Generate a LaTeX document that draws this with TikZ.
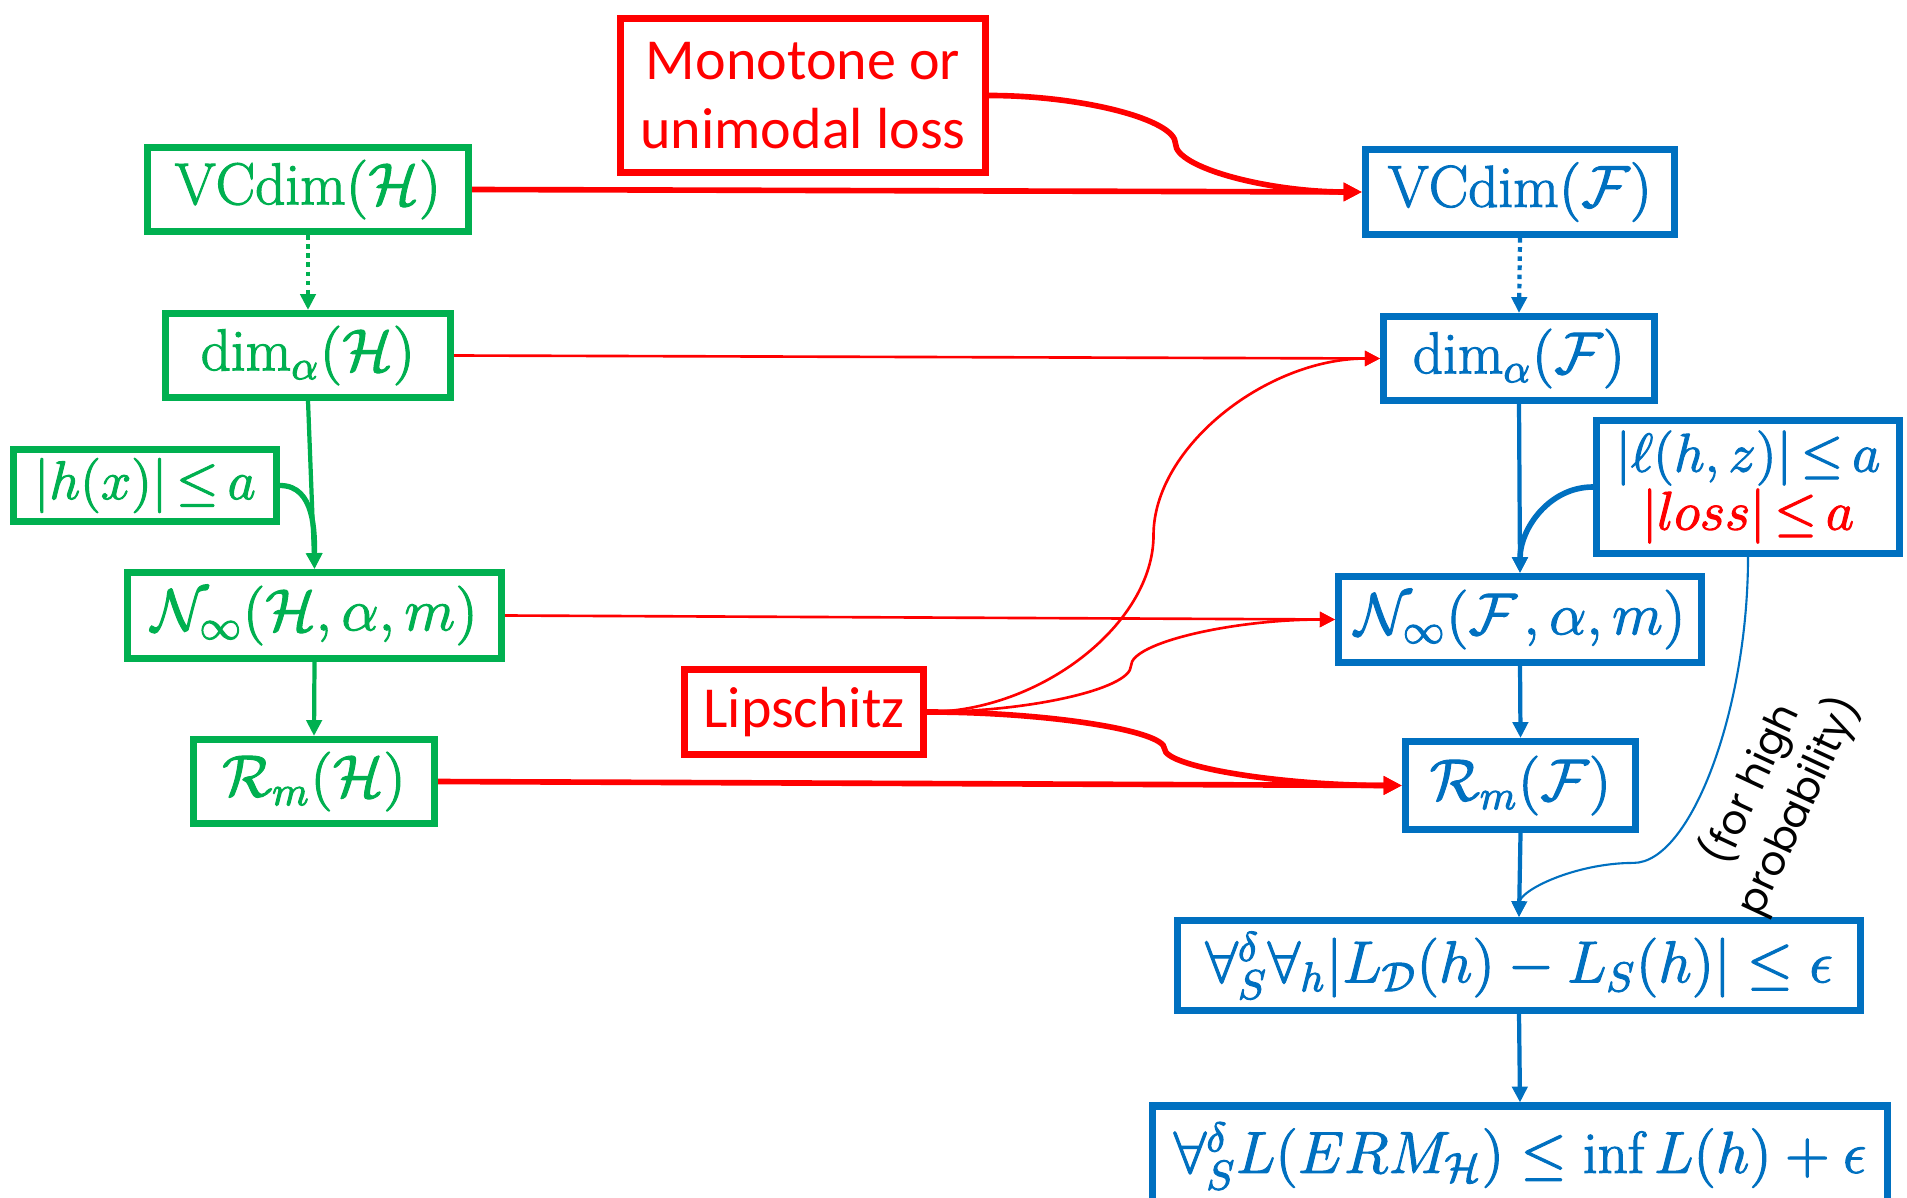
\RequirePackage{fix-cm}
\documentclass[tikz,border=0pt]{standalone}
\usepackage{amsmath}
\usepackage{fontspec}
\newfontfamily\calibri{Carlito}
\newfontfamily\geofont{Poppins}
\usetikzlibrary{arrows.meta,calc}
\definecolor{pgreen}{HTML}{00B050}
\definecolor{pblue}{HTML}{0070C0}
\definecolor{pred}{HTML}{FF0000}

% slightly heavier glyphs for the formulas (fill + stroke text rendering)
\newcommand\heavytext[1]{\special{pdf:literal direct 2 Tr 0.3 w}#1\special{pdf:literal direct 0 Tr}}

% S-shaped connector: horizontal at both ends, vertical tangent half way
\newcommand\bendlink[3]{%
  \coordinate (bl-m) at ($(#2)!0.5!(#3)$);
  \coordinate (bl-a) at ($(#2)!0.25!(#3)$);
  \coordinate (bl-b) at ($(#2)!0.75!(#3)$);
  \draw[#1] (#2) .. controls (bl-a |- #2) and (bl-m |- bl-a) .. (bl-m)
                 .. controls (bl-m |- bl-b) and (bl-b |- #3) .. (#3);
}

\begin{document}
\begin{tikzpicture}[x=0.01cm,y=-0.01cm,
  box/.style={draw, line width=2pt, inner sep=0pt, align=center,
              font=\fontsize{16.8}{19}\selectfont},
  smallmath/.style={font=\fontsize{15.5}{16.5}\selectfont},
  gbox/.style={box, draw=pgreen, text=pgreen},
  bbox/.style={box, draw=pblue, text=pblue},
  rbox/.style={box, draw=pred, text=pred, font=\calibri\fontsize{16.5}{19.5}\selectfont},
  thickred/.style={draw=pred, line width=1.6pt, -{Triangle[length=5.2pt,width=5pt]}},
  thinred/.style={draw=pred, line width=0.75pt, -{Triangle[length=4.3pt,width=4.3pt]}},
  garrow/.style={draw=pgreen, line width=1.2pt, -{Triangle[length=4.5pt,width=4.3pt]}},
  barrow/.style={draw=pblue, line width=1.2pt, -{Triangle[length=4.5pt,width=4.3pt]}},
  thinblue/.style={draw=pblue, line width=0.6pt, -{Triangle[length=4pt,width=3.8pt]}},
  dotline/.style={dash pattern=on 1.3pt off 1.3pt},
]
\useasboundingbox (0,0) rectangle (1907,1197);

% left column
\node[gbox, minimum width=3.21cm, minimum height=0.84cm] (vch) at (308,189.5) {\heavytext{$\mathrm{VCdim}(\mathcal{H})$}};
\node[gbox, minimum width=2.85cm, minimum height=0.84cm] (dah) at (308,355.5) {\heavytext{$\dim_{\alpha}(\mathcal{H})$}};
\node[gbox, smallmath, minimum width=2.63cm, minimum height=0.72cm] (hx) at (145,485.5)
  {\heavytext{$\thickmuskip=3mu |h(x)| \leq a$}};
\node[gbox, minimum width=3.74cm, minimum height=0.86cm] (nh) at (314.5,615.5) {\heavytext{$\mathcal{N}_{\infty}(\mathcal{H},\alpha,m)$}};
\node[gbox, minimum width=2.41cm, minimum height=0.84cm] (rh) at (314,781.5) {\heavytext{$\mathcal{R}_m(\mathcal{H})$}};

% conditions
\node[rbox, minimum width=3.65cm, minimum height=1.54cm] (mono) at (803,95.5) {Monotone or\\unimodal loss};
\node[rbox, minimum width=2.39cm, minimum height=0.85cm] (lip) at (804,712) {Lipschitz};

% right column
\node[bbox, minimum width=3.09cm, minimum height=0.85cm] (vcf) at (1520,192) {\heavytext{$\mathrm{VCdim}(\mathcal{F})$}};
\node[bbox, minimum width=2.71cm, minimum height=0.84cm] (daf) at (1519,358.5) {\heavytext{$\dim_{\alpha}(\mathcal{F})$}};
\node[bbox, smallmath, minimum width=3.03cm, minimum height=1.32cm] (lz) at (1748,487)
  {\heavytext{$\thickmuskip=3mu |\ell(h,z)| \leq a$}\\\textcolor{pred}{\heavytext{$\thickmuskip=3mu |loss| \leq a$}}};
\node[bbox, minimum width=3.63cm, minimum height=0.86cm] (nf) at (1520,619.5) {\heavytext{$\mathcal{N}_{\infty}(\mathcal{F}\mkern2mu,\alpha,m)$}};
\node[bbox, minimum width=2.30cm, minimum height=0.88cm] (rf) at (1520.5,785.5) {\heavytext{$\mathcal{R}_m(\mathcal{F})$}};
\node[bbox, minimum width=6.83cm, minimum height=0.90cm] (unif) at (1519,965.5)
  {\heavytext{$\forall_S^{\delta}\forall_h |L_{\mathcal{D}}(h) - L_S(h)| \leq \epsilon$}};
\node[bbox, minimum width=7.35cm, minimum height=1.00cm] (erm) at (1520,1156)
  {\heavytext{$\forall_S^{\delta} L(ERM_{\mathcal{H}}) \leq \inf L(h) + \epsilon$}};

\node[rotate=65, align=center, font=\geofont\fontsize{11.5}{13.5}\selectfont] (note) at (1774,795) {(for high\\probability)};

% green implications
\draw[garrow, dotline] (vch.south) -- (dah.north);
\draw[garrow] (dah.south) -- (nh.north);
\draw[garrow, line width=1.5pt] (hx.east) to[out=0,in=90] (nh.north);
\draw[garrow] (nh.south) -- (rh.north);

% blue implications
\draw[barrow, dotline] (vcf.south) -- (daf.north);
\draw[barrow] (daf.south) -- (nf.north);
\draw[barrow, line width=1.6pt] (lz.west) to[out=180,in=90] (nf.north);
\draw[barrow] (nf.south) -- (rf.north);
\draw[barrow] (rf.south) -- (unif.north);
\draw[barrow] (unif.south) -- (erm.north);

% bounded loss, high probability
\coordinate (hp-m) at ($(lz.south)!0.5!(unif.north)$);
\coordinate (hp-a) at ($(lz.south)!0.25!(unif.north)$);
\coordinate (hp-b) at ($(lz.south)!0.75!(unif.north)$);
\coordinate (hp-y1) at ($(lz.south)!0.425!(unif.north)$);
\coordinate (hp-y2) at ($(lz.south)!0.85!(unif.north)$);
\coordinate (hp-y3) at ($(lz.south)!0.925!(unif.north)$);
\draw[thinblue] (lz.south) .. controls (lz.south |- hp-y1) and (hp-a |- hp-y2) .. (hp-m |- hp-y2)
  .. controls (hp-b |- hp-y2) and (unif.north |- hp-y3) .. (unif.north);

% transfers from H to F
\draw[thickred] (vch.east) -- (vcf.west);
\draw[thinred] (dah.east) -- (daf.west);
\draw[thinred] (nh.east) -- (nf.west);
\draw[thickred] (rh.east) -- (rf.west);
\bendlink{thickred}{mono.east}{vcf.west}
\bendlink{thinred}{lip.east}{daf.west}
\bendlink{thinred}{lip.east}{nf.west}
\bendlink{thickred}{lip.east}{rf.west}
\end{tikzpicture}
\end{document}
